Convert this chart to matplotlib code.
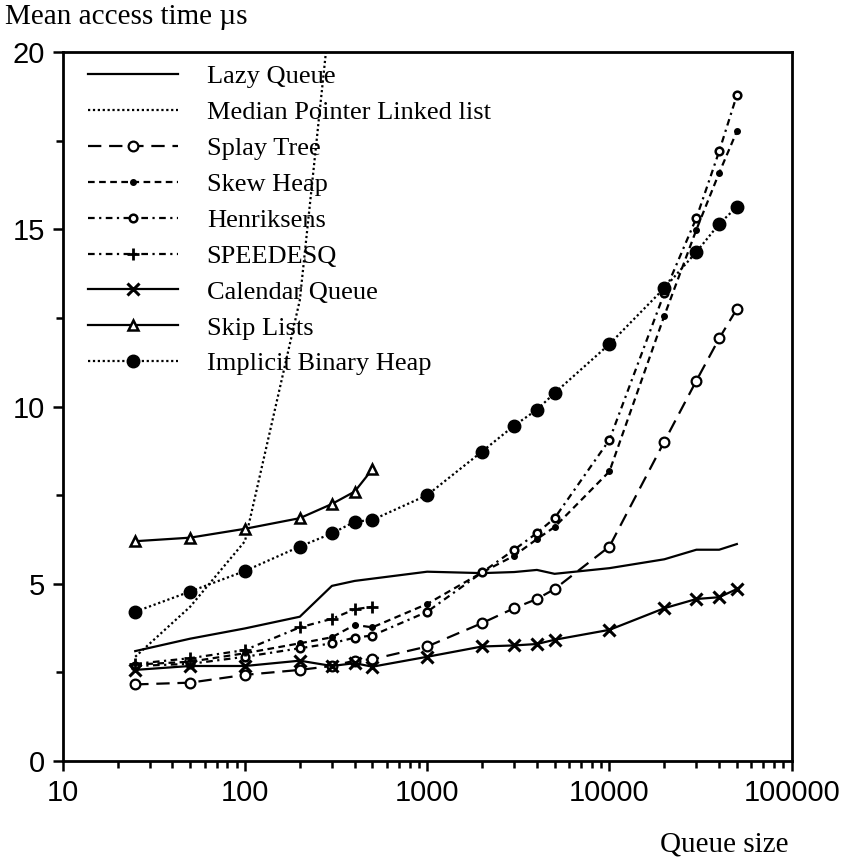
import matplotlib.pyplot as plt
from matplotlib.ticker import FixedLocator, LogLocator, NullFormatter

# queue sizes used by the benchmarks
sizes_full = [25, 50, 100, 200, 300, 400, 500, 1000, 2000, 3000, 4000, 5000,
              10000, 20000, 30000, 40000, 50000]
sizes_small = [25, 50, 100, 200, 300, 400, 500]

lazy_x = [25, 50, 100, 200, 300, 400, 1000, 2000, 3000, 4000, 5000,
          10000, 20000, 30000, 40000, 50000]
lazy_y = [3.10, 3.45, 3.74, 4.07, 4.94, 5.08, 5.34, 5.30, 5.33, 5.39, 5.28,
          5.44, 5.69, 5.96, 5.96, 6.12]

median_x = [25, 50, 100, 200, 300]
median_y = [2.94, 4.35, 6.20, 13.0, 21.6]

splay_y = [2.16, 2.21, 2.43, 2.57, 2.68, 2.83, 2.87, 3.23, 3.89, 4.31, 4.57,
           4.85, 6.05, 9.01, 10.73, 11.92, 12.75]
skew_y = [2.72, 2.80, 3.04, 3.32, 3.49, 3.84, 3.77, 4.43, 5.32, 5.79, 6.26,
          6.60, 8.17, 12.56, 14.99, 16.59, 17.76]
henrik_y = [2.68, 2.74, 2.94, 3.18, 3.32, 3.48, 3.54, 4.21, 5.32, 5.96, 6.43,
            6.85, 9.06, 13.20, 15.32, 17.20, 18.78]
speedesq_y = [2.74, 2.90, 3.13, 3.77, 4.01, 4.28, 4.35]
calendar_y = [2.57, 2.68, 2.68, 2.83, 2.68, 2.76, 2.66, 2.94, 3.23, 3.26, 3.30,
              3.42, 3.70, 4.31, 4.57, 4.62, 4.85]
skip_y = [6.20, 6.30, 6.55, 6.85, 7.25, 7.60, 8.23]
implicit_y = [4.21, 4.78, 5.36, 6.05, 6.42, 6.75, 6.80, 7.50, 8.73, 9.46, 9.91,
              10.38, 11.76, 13.34, 14.36, 15.15, 15.63]

xtick_vals = [10, 100, 1000, 10000, 100000]
xtick_labels = ["10", "100", "1000", "10000", "100000"]
ytick_vals = [0, 5, 10, 15, 20]

W, H = 848, 857
fig = plt.figure(figsize=(W / 100, H / 100), dpi=100)
ax = fig.add_axes([62.7 / W, 1 - 761 / H, (791.7 - 62.7) / W, (761 - 52) / H])

serif = "Liberation Serif"
sans = "Liberation Sans"
k = "black"

ax.plot(lazy_x, lazy_y, color=k, lw=1.6, label="Lazy Queue")
ax.plot(median_x, median_y, color=k, lw=1.6, ls=(0, (1, 1.2)),
        label="Median Pointer Linked list")
ax.plot(sizes_full, splay_y, color=k, lw=1.6, ls=(0, (6, 3.5)), marker="o",
        ms=7, mfc="white", mew=1.6, label="Splay Tree")
ax.plot(sizes_full, skew_y, color=k, lw=1.6, ls=(0, (3, 2)), marker="o",
        ms=4, mfc=k, label="Skew Heap")
ax.plot(sizes_full, henrik_y, color=k, lw=1.6, ls=(0, (3, 2, 1, 2)), marker="o",
        ms=5.5, mfc="white", mew=1.8, label="Henriksens")
ax.plot(sizes_small, speedesq_y, color=k, lw=1.6, ls=(0, (3, 2, 1, 2)),
        marker="+", ms=8, mew=2, label="SPEEDESQ")
ax.plot(sizes_full, calendar_y, color=k, lw=1.6, marker="x", ms=8, mew=2.2,
        label="Calendar Queue")
ax.plot(sizes_small, skip_y, color=k, lw=1.6, marker="^", ms=6.5,
        mfc="white", mew=1.8, label="Skip Lists")
ax.plot(sizes_full, implicit_y, color=k, lw=1.6, ls=(0, (1, 1.2)), marker="o",
        ms=9, mfc=k, label="Implicit Binary Heap")

ax.set_xscale("log")
ax.set_xlim(10, 100000)
ax.set_ylim(0, 20)
ax.xaxis.set_major_locator(FixedLocator(xtick_vals))
ax.set_xticklabels(xtick_labels)
ax.xaxis.set_minor_locator(LogLocator(base=10, subs=range(2, 10)))
ax.xaxis.set_minor_formatter(NullFormatter())
ax.set_yticks(ytick_vals)
ax.yaxis.set_minor_locator(FixedLocator([2.5, 7.5, 12.5, 17.5]))

for s in ax.spines.values():
    s.set_linewidth(2)
ax.tick_params(which="both", direction="out", top=False, right=False,
               width=1.8, colors=k)
ax.tick_params(which="major", length=7, labelsize=21, pad=6)
ax.tick_params(which="minor", length=5)
for lab in ax.get_xticklabels() + ax.get_yticklabels():
    lab.set_fontfamily(sans)

leg = ax.legend(loc="upper left", bbox_to_anchor=(88 / W, 1 - 65 / H),
                bbox_transform=fig.transFigure, frameon=False, borderpad=0,
                borderaxespad=0, handlelength=3.4, handletextpad=1.1,
                labelspacing=0.47, numpoints=1,
                prop={"family": serif, "size": 19})

fig.text(5 / W, 1 - 17 / H, "Mean access time \u00b5s", family=serif,
         fontsize=21, ha="left", va="center")
fig.text(789 / W, 1 - 845 / H, "Queue size", family=serif, fontsize=21,
         ha="right", va="center")

fig.savefig("out.png", dpi=100)
